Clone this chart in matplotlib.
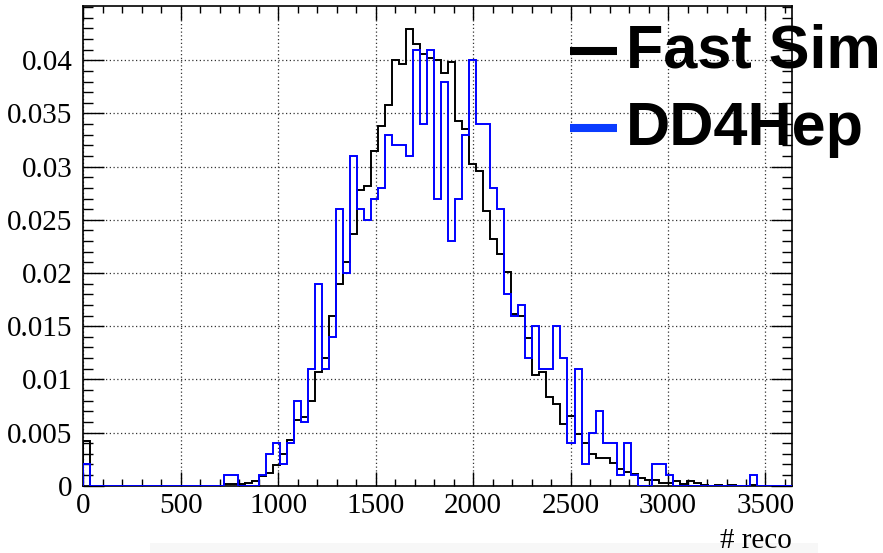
import numpy as np
import matplotlib
matplotlib.use("Agg")
import matplotlib.pyplot as plt
from matplotlib.lines import Line2D
from matplotlib.patches import Rectangle
from matplotlib.ticker import MultipleLocator, FixedLocator, FixedFormatter

# ---- data ----
bin_width = 36
n_bins = 101
fast_sim = [
    0.0042, 0, 0, 0, 0, 0, 0, 0, 0, 0,
    0, 0, 0, 0, 0, 0, 0, 0, 0, 0,
    0.0002, 0.0002, 0.0002, 0.0003, 0.0004, 0.0009, 0.0012, 0.0019, 0.0030, 0.0043,
    0.0062, 0.0065, 0.0080, 0.0107, 0.0120, 0.0160, 0.0190, 0.0210, 0.0237, 0.0278,
    0.0282, 0.0315, 0.0338, 0.0358, 0.0400, 0.0396, 0.0429, 0.0415, 0.0406, 0.0402,
    0.0400, 0.0388, 0.0398, 0.0343, 0.0335, 0.0302, 0.0296, 0.0258, 0.0232, 0.0218,
    0.0201, 0.0161, 0.0160, 0.0139, 0.0104, 0.0107, 0.0083, 0.0077, 0.0058, 0.0066,
    0.0049, 0.0040, 0.0030, 0.0026, 0.0026, 0.0021, 0.0016, 0.0013, 0.0011, 0.0007,
    0.0005, 0.0005, 0.0003, 0.0003, 0.0004, 0.0002, 0.0004, 0.0003, 0.0001, 0,
    0.0001, 0, 0.0001, 0, 0, 0.0001, 0, 0, 0, 0,
    0,
]
dd4hep = [
    0.002, 0, 0, 0, 0, 0, 0, 0, 0, 0,
    0, 0, 0, 0, 0, 0, 0, 0, 0, 0,
    0.001, 0.001, 0, 0, 0, 0.001, 0.003, 0.004, 0.002, 0.004,
    0.008, 0.006, 0.011, 0.019, 0.011, 0.014, 0.026, 0.020, 0.031, 0.026,
    0.025, 0.027, 0.028, 0.033, 0.032, 0.032, 0.031, 0.041, 0.034, 0.041,
    0.027, 0.038, 0.023, 0.027, 0.033, 0.040, 0.034, 0.034, 0.028, 0.026,
    0.018, 0.016, 0.017, 0.012, 0.015, 0.011, 0.011, 0.015, 0.012, 0.004,
    0.011, 0.002, 0.005, 0.007, 0.004, 0.004, 0.001, 0.004, 0.001, 0,
    0, 0.002, 0.002, 0.001, 0, 0, 0, 0, 0, 0,
    0, 0, 0, 0, 0, 0.001, 0, 0, 0, 0,
    0,
]
x_ticks = [0, 500, 1000, 1500, 2000, 2500, 3000, 3500]
x_tick_labels = ["0", "500", "1000", "1500", "2000", "2500", "3000", "3500"]
y_ticks = [0, 0.005, 0.01, 0.015, 0.02, 0.025, 0.03, 0.035, 0.04]
y_tick_labels = ["0", "0.005", "0.01", "0.015", "0.02", "0.025", "0.03", "0.035", "0.04"]
legend_labels = ["Fast Sim", "DD4Hep"]
x_title = "# reco"

edges = np.arange(n_bins + 1) * bin_width

W, H = 883, 553
fig = plt.figure(figsize=(W / 100, H / 100), dpi=100)
fig.patch.set_facecolor("white")

# faint screenshot shading at the bottom
fig.patches.append(Rectangle((150 / W, 0), (818 - 150) / W, 10 / H,
                             transform=fig.transFigure, facecolor="#f7f7f7",
                             edgecolor="none", zorder=0))

ax = fig.add_axes([83.4 / W, 1 - 485.7 / H, (792 - 83.4) / W, (485.7 - 6) / H])

ax.stairs(fast_sim, edges, color="black", linewidth=1.4, baseline=0, zorder=3)
ax.stairs(dd4hep, edges, color="#0000ff", linewidth=1.4, baseline=0, zorder=4)

ax.set_xlim(edges[0], edges[-1])
ax.set_ylim(0, 0.0451)

serif = ["Liberation Serif", "DejaVu Serif"]
ax.xaxis.set_major_locator(FixedLocator(x_ticks))
ax.xaxis.set_major_formatter(FixedFormatter(x_tick_labels))
ax.xaxis.set_minor_locator(MultipleLocator(100))
ax.yaxis.set_major_locator(FixedLocator(y_ticks))
ax.yaxis.set_major_formatter(FixedFormatter(y_tick_labels))
ax.yaxis.set_minor_locator(MultipleLocator(0.001))

ax.tick_params(axis="both", which="both", direction="in", top=True, right=True,
               color="black", width=1.0)
ax.tick_params(axis="x", which="major", length=10, pad=5)
ax.tick_params(axis="x", which="minor", length=5)
ax.tick_params(axis="y", which="major", length=15, pad=8)
ax.tick_params(axis="y", which="minor", length=7.5)
for lab in ax.get_xticklabels() + ax.get_yticklabels():
    lab.set_fontfamily(serif)
    lab.set_fontsize(21)

ax.grid(True, which="major", color="#333333", linestyle=(0, (1, 2)), linewidth=0.9)
ax.set_axisbelow(True)
for sp in ax.spines.values():
    sp.set_linewidth(1.2)

fig.text(792 / W, 1 - 548 / H, x_title, ha="right", va="baseline",
         fontsize=21, family=serif)

# legend
fig.add_artist(Line2D([570 / W, 617 / W], [1 - 50.7 / H, 1 - 50.7 / H],
                      transform=fig.transFigure, color="black", linewidth=5.8,
                      solid_capstyle="butt", zorder=10))
fig.add_artist(Line2D([570 / W, 617 / W], [1 - 128 / H, 1 - 128 / H],
                      transform=fig.transFigure, color="#0a3cff", linewidth=5.8,
                      solid_capstyle="butt", zorder=10))
fig.text(626 / W, 1 - 68 / H, legend_labels[0], ha="left", va="baseline",
         fontsize=44, fontweight="bold", family=["Liberation Sans", "DejaVu Sans"],
         zorder=11)
fig.text(626 / W, 1 - 145 / H, legend_labels[1], ha="left", va="baseline",
         fontsize=44, fontweight="bold", family=["Liberation Sans", "DejaVu Sans"],
         zorder=11)

fig.savefig("out.png", dpi=100)
